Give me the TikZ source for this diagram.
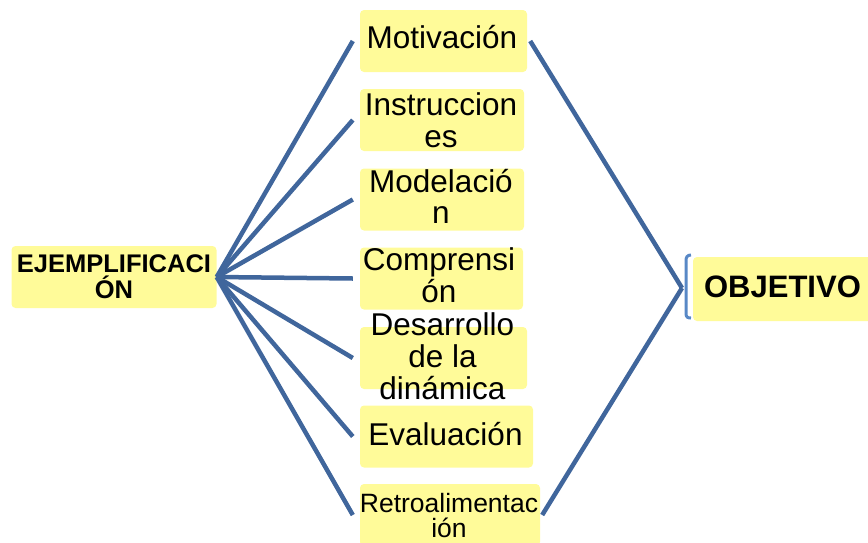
\documentclass[tikz,border=0pt]{standalone}
\usepackage{fontspec}
\setmainfont{Liberation Sans}
\newcommand\mlines[1]{\vtop{\halign{\hfil##\hfil\cr#1\crcr}}}
\newcommand\fsz[1]{\fontsize{#1}{32}\selectfont}
\definecolor{boxyellow}{RGB}{255,251,153}
\definecolor{linkblue}{RGB}{64,102,156}
\definecolor{brackblue}{RGB}{88,136,198}
\begin{document}
\begin{tikzpicture}[x=1pt,y=-1pt,
  box/.style={fill=boxyellow, rounded corners=4pt, inner sep=0pt},
  txt/.style={anchor=base, inner sep=0pt},
  link/.style={draw=linkblue, line width=4.5pt},
  brack/.style={draw=brackblue, line width=3pt}]
\useasboundingbox (0,0) rectangle (868,542);
% boxes
\node[box, minimum width=205pt, minimum height=62pt] (L) at (114,277) {};
\node[box, minimum width=167pt, minimum height=62pt] (b1) at (443.5,41) {};
\node[box, minimum width=164pt, minimum height=62pt] (b2) at (442,120) {};
\node[box, minimum width=164pt, minimum height=62pt] (b3) at (442,199.5) {};
\node[box, minimum width=163pt, minimum height=62pt] (b4) at (441.5,278.5) {};
\node[box, minimum width=167pt, minimum height=62pt] (b5) at (443.5,358) {};
\node[box, minimum width=173pt, minimum height=62pt] (b6) at (446.5,436.5) {};
\node[box, minimum width=180pt, minimum height=62pt] (b7) at (450,515) {};
\node[box, minimum width=187pt, minimum height=64pt] (R) at (786.5,289) {};
% texts
\node[txt, font=\fsz{25.5}\bfseries] (tL) at (114,272) {\fontsize{25.5}{26}\selectfont\mlines{EJEMPLIFICACI\cr ÓN}};
\node[txt, font=\fsz{31.5}] (t1) at (442,48) {Motivación};
\node[txt, font=\fsz{31.5}] (t2) at (441,115) {\mlines{Instruccion\cr es}};
\node[txt, font=\fsz{31.5}] (t3) at (441,192) {\fontsize{31.5}{31}\selectfont\mlines{Modelació\cr n}};
\node[txt, font=\fsz{31.5}] (t4) at (439,270) {\mlines{Comprensi\cr ón}};
\node[txt, font=\fsz{31.5}] (t5) at (442.5,335) {\mlines{Desarrollo\cr de la\cr dinámica}};
\node[txt, font=\fsz{31.5}] (t6) at (445.5,445) {Evaluación};
\node[txt, font=\fsz{26.5}] (t7) at (449,512) {\fontsize{26.5}{25}\selectfont\mlines{Retroalimentac\cr ión}};
\node[txt, font=\fsz{31}\bfseries] (tR) at (782.5,297) {OBJETIVO};
% connectors left
\foreach \b in {b1,b2,b3,b4,b5,b6,b7}
  \draw[link] (L.east) -- ([xshift=-7pt]\b.west);
% right hub and bracket
\coordinate (hub) at (682,288);
\draw[link] ([xshift=3pt]b1.east) -- (hub);
\draw[link] ([xshift=2pt]b7.east) -- (hub);
\draw[brack] (691,255) .. controls (687.5,255) and (686,257) .. (686,260.5)
  -- (686,313.5) .. controls (686,317) and (687.5,318) .. (691,318);
\end{tikzpicture}
\end{document}
